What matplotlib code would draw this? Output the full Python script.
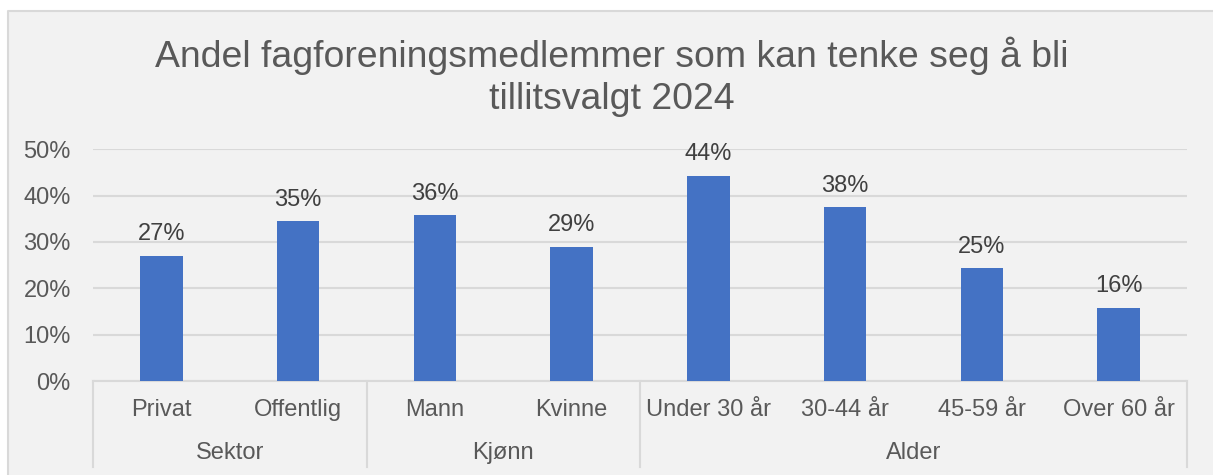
import matplotlib
matplotlib.use("Agg")
import matplotlib.pyplot as plt
from matplotlib.patches import Rectangle
from matplotlib.transforms import blended_transform_factory

plt.rcParams['font.family'] = ['Liberation Sans', 'DejaVu Sans']

categories = ["Privat", "Offentlig", "Mann", "Kvinne", "Under 30 år", "30-44 år", "45-59 år", "Over 60 år"]
values = [27.0, 34.5, 35.8, 29.0, 44.3, 37.5, 24.4, 15.8]
value_labels = ["27%", "35%", "36%", "29%", "44%", "38%", "25%", "16%"]
groups = ["Sektor", "Kjønn", "Alder"]
group_sizes = [2, 2, 4]
yticks = [0, 10, 20, 30, 40, 50]
ytick_labels = ["0%", "10%", "20%", "30%", "40%", "50%"]
title = "Andel fagforeningsmedlemmer som kan tenke seg å bli\ntillitsvalgt 2024"

W, H = 1213, 475
FS = 17
fig = plt.figure(figsize=(W / 100, H / 100), dpi=100)
fig.patch.set_facecolor("white")

bgax = fig.add_axes([0, 0, 1, 1], zorder=0)
bgax.set_xlim(0, W)
bgax.set_ylim(H, 0)
bgax.axis("off")
bgax.add_patch(Rectangle((7.5, 10.5), W, H, facecolor="#F2F2F2",
                         edgecolor="none", clip_on=False))
bgax.plot([7.5, 7.5, W + 5], [H + 5, 10.5, 10.5], color="#D9D9D9", linewidth=1.5,
          clip_on=False)

ax_left, ax_right = 93 / W, 1187 / W
ax_bottom = (H - 381) / H
ax_top = (H - 149.3) / H
ax = fig.add_axes([ax_left, ax_bottom, ax_right - ax_left, ax_top - ax_bottom], zorder=2)
ax.set_facecolor("none")

x = list(range(len(categories)))
ax.bar(x, values, width=0.31, color="#4472C4", zorder=3)
ax.set_xlim(-0.5, len(categories) - 0.5)
ax.set_ylim(0, 50)
ax.set_yticks(yticks)
ax.set_yticklabels(ytick_labels)
ax.yaxis.grid(True, color="#D9D9D9", linewidth=1.5, zorder=0)
ax.set_axisbelow(True)
for s in ["top", "right", "left"]:
    ax.spines[s].set_visible(False)
ax.spines["bottom"].set_color("#D9D9D9")
ax.spines["bottom"].set_linewidth(1.5)
ax.tick_params(axis="y", length=0, pad=16, labelsize=FS, labelcolor="#595959")
ax.tick_params(axis="x", length=0, labelbottom=False)

for xi, v, lab in zip(x, values, value_labels):
    ax.annotate(lab, (xi, v), xytext=(0, 7.5), textcoords="offset points",
                ha="center", va="bottom", fontsize=FS, color="#404040")

axh = ax_top - ax_bottom
tr = blended_transform_factory(ax.transData, ax.transAxes)
cat_y = -(410 - 381) / (axh * H)
grp_y = -(453 - 381) / (axh * H)
line_bottom = -(467 - 381) / (axh * H)

for xi, c in zip(x, categories):
    ax.text(xi, cat_y, c, transform=tr, ha="center", va="center", fontsize=FS, color="#595959")

start = 0
bounds = [-0.5]
for g, n in zip(groups, group_sizes):
    center = start + (n - 1) / 2
    ax.text(center, grp_y, g, transform=tr, ha="center", va="center", fontsize=FS, color="#595959")
    start += n
    bounds.append(start - 0.5)
for b in bounds:
    ax.plot([b, b], [0, line_bottom], transform=tr, color="#D9D9D9", linewidth=1.5, clip_on=False)

fig.text(612 / W, (H - 77) / H, title, ha="center", va="center", fontsize=26.9,
         color="#595959", linespacing=1.25, zorder=3)

fig.savefig("out.png", dpi=100, facecolor=fig.get_facecolor())
